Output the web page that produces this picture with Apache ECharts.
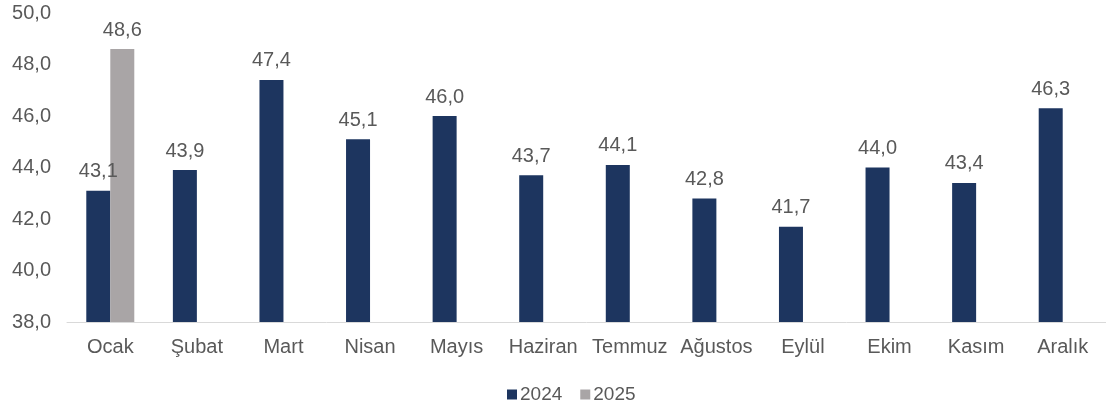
<!DOCTYPE html>
<html><head><meta charset="utf-8">
<script src="https://cdn.jsdelivr.net/npm/echarts@6/dist/echarts.min.js"></script>
<style>html,body{margin:0;padding:0;background:#fff}#c{width:1106px;height:409px}</style>
</head><body><div id="c"></div>
<script>
const categories = ["Ocak","Şubat","Mart","Nisan","Mayıs","Haziran","Temmuz","Ağustos","Eylül","Ekim","Kasım","Aralık"];
const values2024 = [43.1,43.9,47.4,45.1,46.0,43.7,44.1,42.8,41.7,44.0,43.4,46.3];
const values2025 = [48.6,null,null,null,null,null,null,null,null,null,null,null];
const seriesNames = ["2024","2025"];
const fmt = v => v.toFixed(1).replace('.', ',');
const chart = echarts.init(document.getElementById('c'));
const txt = '#595959';
const font = 'Liberation Sans, Arial, sans-serif';
const fs = 20;
chart.setOption({
  animation:false,
  textStyle:{fontFamily:font},
  grid:{left:67, top:13, width:1044, bottom:87, containLabel:false},
  legend:{top:380, left:502, itemWidth:10, itemHeight:10, itemGap:18, icon:'rect',
    textStyle:{color:txt, fontSize:19, fontFamily:font, padding:[0,0,0,-2]}, data:seriesNames},
  xAxis:{type:'category', data:categories,
    axisLine:{lineStyle:{color:'#d9d9d9', width:1}}, axisTick:{show:false},
    axisLabel:{color:txt, fontSize:fs, margin:15, interval:0, hideOverlap:false, fontFamily:font}},
  yAxis:{type:'value', min:38, max:50, interval:2,
    splitLine:{show:false}, axisLine:{show:false}, axisTick:{show:false},
    axisLabel:{color:txt, fontSize:fs, margin:16, formatter:v=>fmt(v), fontFamily:font}},
  series:[
    {name:seriesNames[0], type:'bar', data:values2024, barWidth:24, barGap:'0%',
     itemStyle:{color:'#1d355f'},
     label:{show:true, position:'top', distance:9, color:txt, fontSize:fs, fontFamily:font, formatter:p=>fmt(p.value)}},
    {name:seriesNames[1], type:'bar', data:values2025, barWidth:24,
     itemStyle:{color:'#a9a5a6'},
     label:{show:true, position:'top', distance:9, color:txt, fontSize:fs, fontFamily:font, formatter:p=>p.value==null?'':fmt(p.value)}}
  ]
});
</script></body></html>
